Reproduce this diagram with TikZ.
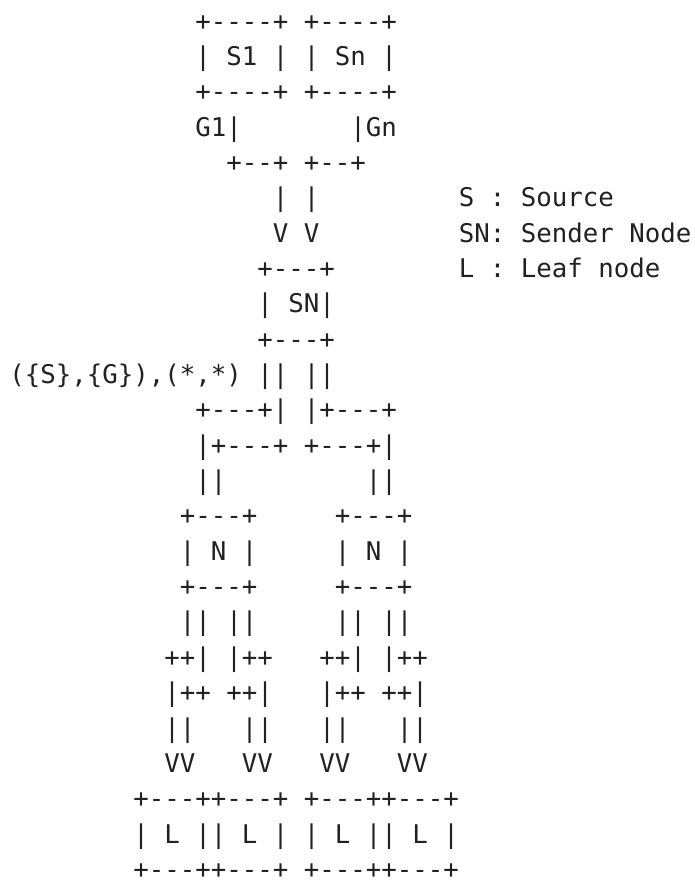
\documentclass[tikz,border=0pt]{standalone}
\usepackage{fontspec}
\setmonofont{DejaVu Sans Mono}
\definecolor{ink}{rgb}{0.13,0.13,0.13}
\newcommand\T[4]{\node[txt] (#1) at ({9.25+15.5*(#2)},{-30-35.35*((#3)-1)}) {#4};}
\begin{document}
\begin{tikzpicture}[x=1pt,y=1pt,
  txt/.style={anchor=base west,inner sep=0pt,outer sep=0pt,text=ink,
    font=\ttfamily\fontsize{25.75}{30}\selectfont}]
\useasboundingbox (0,0) rectangle (695,-884);
\T{l1}{12}{1}{+----+~+----+}
\T{l2}{12}{2}{|~S1~|~|~Sn~|}
\T{l3}{12}{3}{+----+~+----+}
\T{l4}{12}{4}{G1|~~~~~~~|Gn}
\T{l5}{14}{5}{+--+~+--+}
\T{l6}{17}{6}{|~|}
\T{k1}{29}{6}{S~:~Source}
\T{l7}{17}{7}{V~V}
\T{k2}{29}{7}{SN:~Sender~Node}
\T{l8}{16}{8}{+---+}
\T{k3}{29}{8}{L~:~Leaf~node}
\T{l9}{16}{9}{|~SN|}
\T{l10}{16}{10}{+---+}
\T{l11}{0}{11}{(\{S\},\{G\}),(*,*)~||~||}
\T{l12}{12}{12}{+---+|~|+---+}
\T{l13}{12}{13}{|+---+~+---+|}
\T{l14a}{12}{14}{||}
\T{l14b}{23}{14}{||}
\T{l15a}{11}{15}{+---+}
\T{l15b}{21}{15}{+---+}
\T{l16a}{11}{16}{|~N~|}
\T{l16b}{21}{16}{|~N~|}
\T{l17a}{11}{17}{+---+}
\T{l17b}{21}{17}{+---+}
\T{l18a}{11}{18}{||~||}
\T{l18b}{21}{18}{||~||}
\T{l19a}{10}{19}{++|~|++}
\T{l19b}{20}{19}{++|~|++}
\T{l20a}{10}{20}{|++~++|}
\T{l20b}{20}{20}{|++~++|}
\T{l21a}{10}{21}{||~~~||}
\T{l21b}{20}{21}{||~~~||}
\T{l22}{10}{22}{VV~~~VV~~~VV~~~VV}
\T{l23}{8}{23}{+---++---+~+---++---+}
\T{l24}{8}{24}{|~L~||~L~|~|~L~||~L~|}
\T{l25}{8}{25}{+---++---+~+---++---+}
\end{tikzpicture}
\end{document}
